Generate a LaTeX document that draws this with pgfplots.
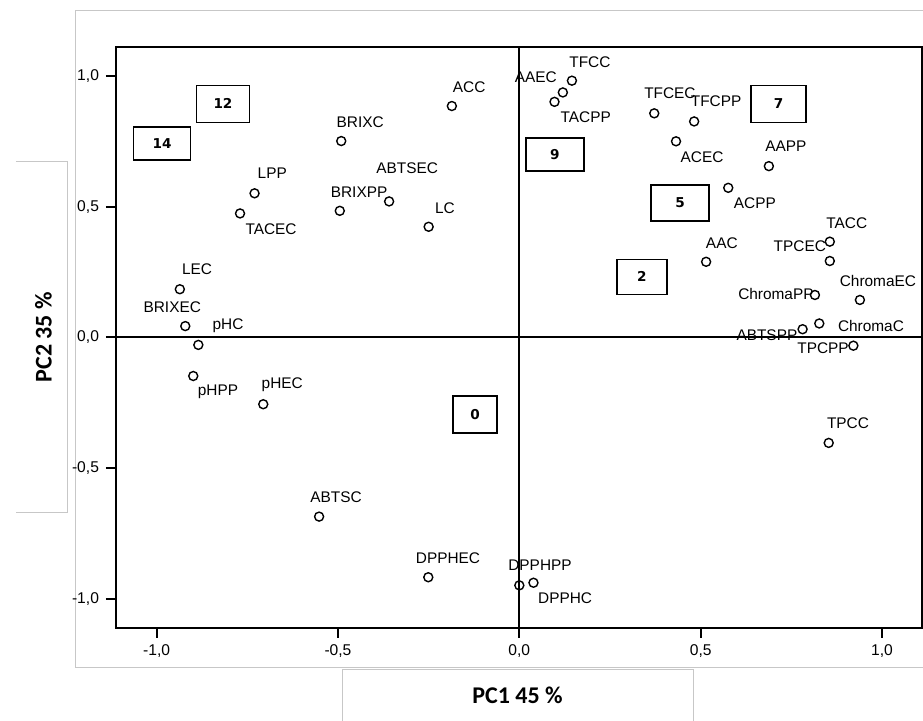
\documentclass[border=0pt]{standalone}
\usepackage{fontspec}
\setmainfont{Liberation Sans}
\newfontfamily\carlito{Carlito}
\newfontfamily\dejavu{DejaVu Sans}
\usepackage{pgfplots}
\pgfplotsset{compat=1.18}
\usepackage{pgfplotstable}

% x, y: loadings; dx, dy: label offset in pt
\pgfplotstableread{
x y label dx dy
-0.186 0.885 ACC 8.65 9.5
-0.491 0.751 BRIXC 9.5 9.5
-0.730 0.551 LPP 8.85 10.15
-0.770 0.474 TACEC 15.5 -7.85
-0.495 0.484 BRIXPP 9.65 9.35
-0.359 0.520 ABTSEC 9 16.65
-0.250 0.423 LC 8.15 9.35
-0.936 0.184 LEC 8.65 10.15
-0.921 0.043 BRIXEC -6.5 9.5
-0.885 -0.029 pHC 14.85 9.5
-0.899 -0.148 pHPP 12.35 -8
-0.706 -0.256 pHEC 9.5 9.65
-0.552 -0.686 ABTSC 8.5 9.85
-0.251 -0.918 DPPHEC 9.85 9.65
0.000 -0.949 DPPHPP 10.35 10.15
0.039 -0.939 DPPHC 15.85 -7.65
0.853 -0.404 TPCC 9.65 10
0.145 0.982 TFCC 9 9.35
0.120 0.937 AAEC -13.5 7.65
0.097 0.901 TACPP 15.65 -7.65
0.372 0.857 TFCEC 7.85 10.15
0.482 0.826 TFCPP 11 10.15
0.432 0.750 ACEC 13 -7.85
0.688 0.655 AAPP 8.5 10
0.576 0.572 ACPP 13.35 -7.65
0.515 0.289 AAC 7.85 9.35
0.856 0.366 TACC 8.5 9.35
0.856 0.292 TPCEC -15 7.5
0.815 0.162 ChromaPP -19.5 0.5
0.939 0.143 ChromaEC 9 9.5
0.827 0.053 ChromaC 25.85 -1.35
0.781 0.031 ABTSPP -17.85 -2.85
0.921 -0.032 TPCPP -15.15 -1.15
}\loadings

\newcommand\lab{\fontsize{7.7}{9}\selectfont}
\newcommand\boxfont{\dejavu\bfseries\fontsize{6.8}{8}\selectfont}
\newcommand\axlab{\carlito\bfseries\fontsize{12}{14}\selectfont}

\begin{document}
\begin{tikzpicture}
\path[use as bounding box] (-58pt,-46.65pt) rectangle (403.5pt,313.85pt);
% light grey frames around the chart
\draw[black!22, line width=0.5pt] (-20pt,-20.15pt) rectangle (430pt,308.7pt);
\draw[black!22, line width=0.5pt] (-50pt,232.85pt) -- (-24.15pt,232.85pt) -- (-24.15pt,57.35pt) -- (-50pt,57.35pt);
\draw[black!22, line width=0.5pt] (113.5pt,-60pt) -- (113.5pt,-21.15pt) -- (288.5pt,-21.15pt) -- (288.5pt,-60pt);
\begin{axis}[
  at={(0,0)}, anchor=south west,
  scale only axis, width=403.15pt, height=290.5pt,
  xmin=-1.112, xmax=1.111, ymin=-1.111, ymax=1.112,
  axis line style={line width=1pt},
  xtick={-1,-0.5,0,0.5,1}, xticklabels={{-1,0},{-0,5},{0,0},{0,5},{1,0}},
  ytick={-1,-0.5,0,0.5,1}, yticklabels={{-1,0},{-0,5},{0,0},{0,5},{1,0}},
  xtick pos=bottom, ytick pos=left, tick align=outside,
  major tick length=5pt,
  tick style={line width=1pt, black},
  ticklabel style={font=\fontsize{7.8}{9}\selectfont},
  xlabel={PC1 45 \%}, ylabel={PC2 35 \%},
  xlabel style={font=\axlab, at={(axis description cs:0.498,-0.1158)}, anchor=center},
  ylabel style={font=\axlab, at={(axis description cs:-0.0899,0.5)}, anchor=center},
  clip=false,
]
\draw[line width=1pt] (axis cs:0,-1.111) -- (axis cs:0,1.112);
\draw[line width=1pt] (axis cs:-1.112,0) -- (axis cs:1.111,0);
\addplot[only marks, mark=o, mark size=2.25pt, mark options={line width=0.7pt, black}]
  table[x=x, y=y]{\loadings};
% variable labels, shifted from their points
\addplot[draw=none, mark=none, nodes near coords, point meta=explicit symbolic,
  every node near coord/.style={anchor=center, font=\lab, inner sep=0pt, text=black}]
  table[x expr={\thisrow{x}+\thisrow{dx}/181.4}, y expr={\thisrow{y}+\thisrow{dy}/130.7}, meta=label]{\loadings};
\tikzset{bx/.style={draw, line width=0.9pt, inner sep=0pt, font=\boxfont, fill=white}}
\node[bx, minimum width=26.5pt, minimum height=18.5pt] at (axis cs:-0.817,0.893) {12};
\node[bx, minimum width=28.5pt, minimum height=16.5pt] at (axis cs:-0.985,0.741) {14};
\node[bx, minimum width=29pt, minimum height=16.5pt] at (axis cs:0.098,0.701) {9};
\node[bx, minimum width=27.5pt, minimum height=18.5pt] at (axis cs:0.715,0.893) {7};
\node[bx, minimum width=29pt, minimum height=18pt] at (axis cs:0.443,0.514) {5};
\node[bx, minimum width=25pt, minimum height=17.5pt] at (axis cs:0.338,0.231) {2};
\node[bx, minimum width=22pt, minimum height=18.5pt] at (axis cs:-0.122,-0.295) {0};
\end{axis}
\end{tikzpicture}
\end{document}
